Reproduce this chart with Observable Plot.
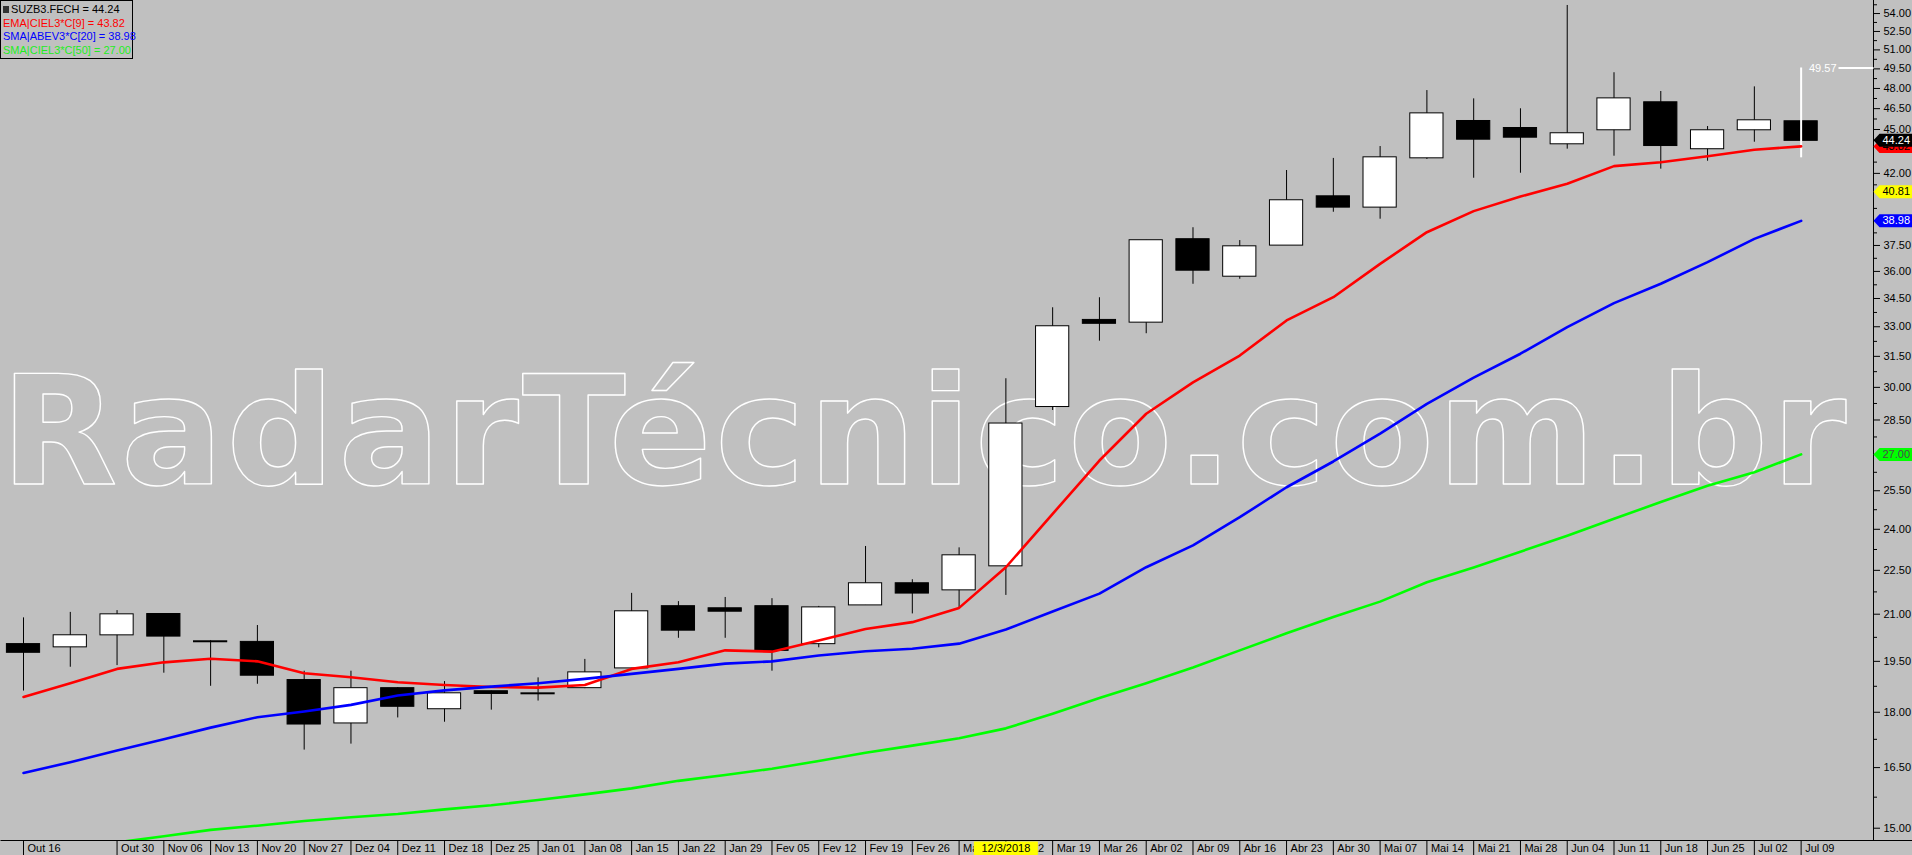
<!DOCTYPE html>
<html>
<head>
<meta charset="utf-8">
<script src="https://cdn.jsdelivr.net/npm/d3@7"></script>
<script src="https://cdn.jsdelivr.net/npm/@observablehq/plot@0.6"></script>
<style>
  html, body { margin: 0; padding: 0; background: #c0c0c0; overflow: hidden; }
  #wrap { position: relative; width: 1912px; height: 855px; }
  #legend { position: absolute; left: 0; top: 0; width: 133px; height: 59px; box-sizing: border-box;
    border: 1px solid #000; font: 11px Arial, "Liberation Sans", sans-serif; line-height: 13.6px; padding: 2px 0 0 2px; white-space: nowrap; }
  #legend .sq { display: inline-block; width: 6px; height: 7px; background: #333; margin-right: 2px; }
</style>
</head>
<body>
<div id="wrap"><div id="chart"></div><div id="legend"></div></div>
<script>
// ---- data (weekly candles, SUZB3) ----
const dates = ["Out 16","Out 23","Out 30","Nov 06","Nov 13","Nov 20","Nov 27","Dez 04","Dez 11","Dez 18","Dez 25",
  "Jan 01","Jan 08","Jan 15","Jan 22","Jan 29","Fev 05","Fev 12","Fev 19","Fev 26","Mar 05","Mar 12","Mar 19","Mar 26",
  "Abr 02","Abr 09","Abr 16","Abr 23","Abr 30","Mai 07","Mai 14","Mai 21","Mai 28","Jun 04","Jun 11","Jun 18","Jun 25","Jul 02","Jul 09"];
const open = [20.02,19.95,20.33,20.99,20.11,20.09,18.92,17.70,18.68,18.10,18.59,18.53,18.71,19.30,21.25,21.18,21.25,20.05,21.31,22.03,21.82,22.66,29.11,33.33,33.24,37.84,35.73,37.52,40.48,39.83,43.04,45.57,45.07,44.00,44.98,46.93,43.66,44.98,45.55];
const high = [20.88,21.06,21.12,21.01,20.15,20.63,19.20,19.20,18.71,18.89,18.61,19.00,19.56,21.70,21.42,21.56,21.52,21.26,23.36,22.17,23.31,30.41,34.00,34.54,37.80,38.56,37.79,42.19,43.00,43.81,47.84,47.22,46.49,54.69,49.20,47.77,45.21,48.12,49.57];
const low = [18.61,19.32,19.37,19.14,18.75,18.81,16.96,17.12,17.84,17.72,18.06,18.32,18.68,19.29,20.22,20.22,19.20,19.92,21.30,21.01,21.21,21.63,28.93,32.26,32.64,35.28,35.56,37.50,39.51,39.08,42.93,41.68,42.01,43.63,43.15,42.28,42.81,44.11,43.04];
const close = [19.78,20.30,20.98,20.29,20.11,19.08,17.67,18.68,18.17,18.53,18.54,18.53,19.15,21.08,20.48,21.10,19.84,21.21,22.03,21.71,23.02,28.32,33.00,33.18,37.78,36.07,37.42,40.23,39.83,43.04,46.12,44.32,44.46,44.70,47.22,43.88,44.91,45.62,44.24];
const ema9 = [18.44,18.84,19.27,19.47,19.58,19.50,19.14,19.02,18.87,18.79,18.73,18.71,18.79,19.27,19.47,19.84,19.80,20.15,20.52,20.74,21.21,22.61,24.59,26.74,28.78,30.24,31.54,33.33,34.57,36.43,38.29,39.58,40.50,41.32,42.48,42.74,43.15,43.59,43.82];
const sma20 = [16.36,16.64,16.95,17.25,17.57,17.86,18.02,18.21,18.48,18.63,18.74,18.84,18.97,19.12,19.27,19.43,19.50,19.68,19.81,19.89,20.05,20.50,21.09,21.69,22.61,23.40,24.46,25.64,26.70,27.90,29.23,30.46,31.63,32.98,34.25,35.31,36.53,37.89,38.98];
const sma50 = [null,null,14.67,14.81,14.96,15.06,15.17,15.26,15.34,15.45,15.55,15.68,15.82,15.97,16.16,16.31,16.47,16.67,16.89,17.08,17.28,17.55,17.96,18.41,18.84,19.31,19.84,20.38,20.91,21.42,22.08,22.60,23.17,23.76,24.40,25.05,25.70,26.25,27.00];
// labelled price ticks (43.50, 40.50 and 39.00 are hidden behind the price tags in the reference)
const yTicks = [15.00,16.50,18.00,19.50,21.00,22.50,24.00,25.50,27.00,28.50,30.00,31.50,33.00,34.50,36.00,37.50,42.00,45.00,46.50,48.00,49.50,51.00,52.50,54.00];
const yMinorTicks = [15.75,17.25,18.75,20.25,21.75,23.25,24.75,26.25,27.75,29.25,30.75,32.25,33.75,35.25,36.75,38.25,39.75,41.25,42.75,44.25,45.75,47.25,48.75,50.25,51.75,53.25,54.75];
const hiddenDateLabels = ["Out 23"];
const cursorDateIndex = 21;
const cursorDateText = "12/3/2018";
const cursorPrice = 40.81;
const legendNames = ["SUZB3.FECH", "EMA|CIEL3*C[9]", "SMA|ABEV3*C[20]", "SMA|CIEL3*C[50]"];
const watermark = "RadarTécnico.com.br";

// ---- build table ----
const data = dates.map((d, i) => ({i, date: d, open: open[i], high: high[i], low: low[i], close: close[i],
  ema: ema9[i], sma20: sma20[i], sma50: sma50[i] == null ? NaN : sma50[i]}));
const n = data.length;
const last = data[n - 1];
const up = data.filter(d => d.close >= d.open);
const down = data.filter(d => d.close < d.open);
const labelData = data.filter(d => !hiddenDateLabels.includes(d.date));

const tags = [
  {v: last.ema, bg: "#ff0000", fg: "#000000"},
  {v: last.close, bg: "#000000", fg: "#ffffff"},
  {v: cursorPrice, bg: "#ffff00", fg: "#000000"},
  {v: last.sma20, bg: "#0000ff", fg: "#ffffff"},
  {v: last.sma50, bg: "#00ff00", fg: "#4a4a4a"}
];

// custom symbols (pixel shapes)
const tagShape = {draw(ctx) { ctx.moveTo(0, 0); ctx.lineTo(6, -6.5); ctx.lineTo(40, -6.5); ctx.lineTo(40, 6.5); ctx.lineTo(6, 6.5); ctx.closePath(); }};
const minorTick = {draw(ctx) { ctx.moveTo(0, 0); ctx.lineTo(3.5, 0); }};
const dateSep = {draw(ctx) { ctx.moveTo(0, 0); ctx.lineTo(0, 15); }};
const dateBox = {draw(ctx) { ctx.rect(-32, 1, 64, 14); }};
const bottomLine = {draw(ctx) { ctx.moveTo(0, 0); ctx.lineTo(1912, 0); }};
const dashLeft = {draw(ctx) { ctx.moveTo(-35, 0); ctx.lineTo(0, 0); }};

const font = "Arial, 'Liberation Sans', sans-serif";
const wmFont = "'DejaVu Sans', Verdana, sans-serif";

const plot = Plot.plot({
  width: 1912,
  height: 855,
  marginTop: 0,
  marginLeft: 0,
  marginRight: 39,
  marginBottom: 15,
  style: {background: "#c0c0c0", color: "black", fontFamily: font, fontSize: "11px", overflow: "visible"},
  x: {domain: [-0.4917, 39.547], axis: null},
  y: {type: "log", domain: [14.713, 55.119], axis: "right", ticks: yTicks, tickFormat: d => d.toFixed(2),
      tickSize: 6, tickPadding: 4, line: true, label: null},
  marks: [
    // watermark
    Plot.text([watermark], {text: d => d, frameAnchor: "top-left", dx: 0, dy: 483, textAnchor: "start", lineAnchor: "bottom",
      fontSize: 152, fontWeight: "bold", fontFamily: wmFont, fill: "none", stroke: "white", strokeWidth: 1.4}),
    // wicks
    Plot.ruleX(data.slice(0, n - 1), {x: "i", y1: "low", y2: "high", stroke: "black", strokeWidth: 1}),
    // bodies
    Plot.rect(up, {x1: d => d.i - 0.355, x2: d => d.i + 0.355, y1: "open", y2: "close", fill: "white", stroke: "black", strokeWidth: 1, insetTop: -0.5, insetBottom: -0.5}),
    Plot.rect(down, {x1: d => d.i - 0.355, x2: d => d.i + 0.355, y1: "open", y2: "close", fill: "black", stroke: "black", strokeWidth: 1, insetTop: -0.5, insetBottom: -0.5}),
    // current bar range (white)
    Plot.ruleX([last], {x: "i", y1: "low", y2: "high", stroke: "white", strokeWidth: 2}),
    // indicators
    Plot.line(data, {x: "i", y: "ema", stroke: "#ff0000", strokeWidth: 2.6}),
    Plot.line(data, {x: "i", y: "sma20", stroke: "#0000ff", strokeWidth: 2.6}),
    Plot.line(data, {x: "i", y: "sma50", stroke: "#00ff00", strokeWidth: 2.6, clip: true}),
    // high label of current bar
    Plot.text([last], {y: "high", text: d => d.high.toFixed(2), frameAnchor: "right", dx: -37, textAnchor: "end", fill: "white"}),
    Plot.dot([last], {y: "high", frameAnchor: "right", symbol: dashLeft, r: 4, fill: "none", stroke: "white", strokeWidth: 2}),
    // minor ticks on price axis
    Plot.dot(yMinorTicks, {y: d => d, frameAnchor: "right", symbol: minorTick, r: 3, fill: "none", stroke: "black", strokeWidth: 1}),
    // price tags
    Plot.dot(tags, {y: "v", frameAnchor: "right", symbol: tagShape, r: 5, fill: "bg", stroke: "none"}),
    Plot.text(tags, {y: "v", text: d => d.v.toFixed(2), frameAnchor: "right", dx: 9, textAnchor: "start", fill: "fg"}),
    // date row
    Plot.dot([0], {frameAnchor: "bottom-left", symbol: bottomLine, r: 3, fill: "none", stroke: "black", strokeWidth: 1}),
    Plot.dot(labelData, {x: "i", frameAnchor: "bottom", symbol: dateSep, r: 3, fill: "none", stroke: "black", strokeWidth: 1}),
    Plot.text(labelData, {x: "i", text: "date", frameAnchor: "bottom", dx: 4, dy: 8, textAnchor: "start", lineAnchor: "middle", fill: "black"}),
    Plot.dot([cursorDateIndex], {x: d => d, frameAnchor: "bottom", symbol: dateBox, r: 5, fill: "#ffff00", stroke: "none"}),
    Plot.text([cursorDateIndex], {x: d => d, text: () => cursorDateText, frameAnchor: "bottom", dy: 8, textAnchor: "middle", lineAnchor: "middle", fill: "black"})
  ]
});

document.getElementById("chart").appendChild(plot);

// stretch watermark to its width in the reference
d3.select(plot).selectAll("text").filter(function () { return this.textContent === watermark; })
  .attr("textLength", 1846).attr("lengthAdjust", "spacing").attr("font-weight", "bold");

// legend
const legendItems = [
  {name: legendNames[0], v: last.close, color: "#000000", sq: true},
  {name: legendNames[1], v: last.ema, color: "#ff0000"},
  {name: legendNames[2], v: last.sma20, color: "#0000ff"},
  {name: legendNames[3], v: last.sma50, color: "#22ee22"}
];
const lg = d3.select("#legend");
legendItems.forEach(it => {
  const row = lg.append("div").style("color", it.color);
  if (it.sq) row.append("span").attr("class", "sq");
  row.append("span").text(`${it.name} = ${it.v.toFixed(2)}`);
});
</script>
</body>
</html>
